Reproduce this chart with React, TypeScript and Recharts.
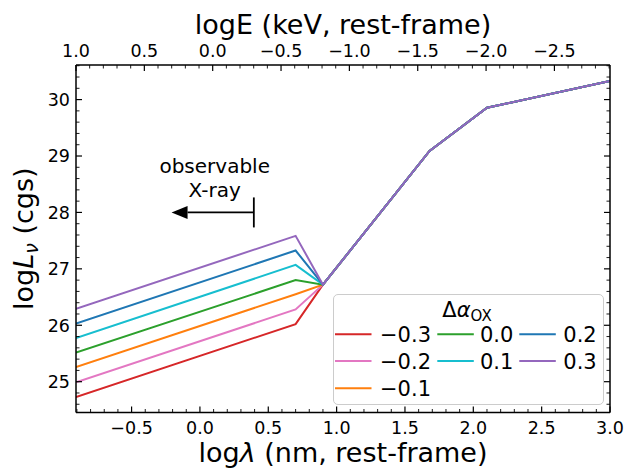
import { LineChart, Line, XAxis, YAxis, Legend, ReferenceLine, Label } from 'recharts'

const FONT = '"DejaVu Sans", sans-serif'

// log10(hc) in keV*nm, links the two x axes
const LOG_HC = 0.09336

// logλ (nm) of the polyline vertices
const LOG_LAMBDA = [-0.9066, 0.7, 0.9, 1.68, 2.1, 3.0]

// logLν for each Δα_OX
const D_M03 = [24.73, 26.02, 26.72, 29.09, 29.855, 30.33]
const D_M02 = [24.99, 26.28, 26.72, 29.09, 29.855, 30.33]
const D_M01 = [25.26, 26.55, 26.72, 29.09, 29.855, 30.33]
const D_P00 = [25.515, 26.8, 26.72, 29.09, 29.855, 30.33]
const D_P01 = [25.775, 27.07, 26.72, 29.09, 29.855, 30.33]
const D_P02 = [26.03, 27.325, 26.72, 29.09, 29.855, 30.33]
const D_P03 = [26.29, 27.585, 26.72, 29.09, 29.855, 30.33]

const SERIES_VALUES = [D_M03, D_M02, D_M01, D_P00, D_P01, D_P02, D_P03]
const SERIES_LABELS = ['\u22120.3', '\u22120.2', '\u22120.1', '0.0', '0.1', '0.2', '0.3']
const SERIES_COLORS = ['#d62728', '#e377c2', '#ff7f0e', '#2ca02c', '#17becf', '#1f77b4', '#9467bd']
const LEGEND_COLUMNS = [[0, 1, 2], [3, 4], [5, 6]]

// axes
const X_MIN = LOG_HC - 1.0
const X_MAX = 3.0
const Y_MIN = 24.454
const Y_MAX = 30.613
const X_MAJOR = [-0.5, 0.0, 0.5, 1.0, 1.5, 2.0, 2.5, 3.0]
const E_MAJOR = [1.0, 0.5, 0.0, -0.5, -1.0, -1.5, -2.0, -2.5]
const Y_MAJOR = [25, 26, 27, 28, 29, 30]

// "observable X-ray" arrow, logE of tail / head (0.5 keV -> 2 keV)
const ARROW_TAIL_E = -0.301
const ARROW_HEAD_E = 0.301
const ARROW_Y = 28.0

const steps = (from: number, to: number, step: number) => {
  const out: number[] = []
  const n = Math.round((to - from) / step)
  for (let i = 0; i <= n; i++) out.push(Math.round((from + i * step) * 1000) / 1000)
  return out
}
const isMajor = (v: number, majors: number[]) => majors.some(m => Math.abs(m - v) < 1e-6)
const fmt = (v: number) => {
  const r = Math.round(v * 10) / 10
  return (r === 0 ? 0 : r).toFixed(1).replace('-', '\u2212')
}

const xTicks = steps(-0.9, 3.0, 0.1)
const eValues = steps(-2.9, 1.0, 0.1)
const topTicks = eValues.map(e => LOG_HC - e)
const yTicks = steps(24.6, 30.6, 0.2)

const rows = LOG_LAMBDA.map((x, i) => {
  const row: any = { x }
  SERIES_VALUES.forEach((vals, s) => { row['s' + s] = vals[i] })
  return row
})

const TICK_FONT = 17.5
const LABEL_FONT = 27
const AXIS_LINE = { stroke: '#000', strokeWidth: 1.5 }

function BottomTick({ x, y, payload }: any) {
  const major = isMajor(payload.value, X_MAJOR)
  return (
    <g>
      <line x1={x} x2={x} y1={y} y2={y - (major ? 6 : 3.5)} stroke="#000" strokeWidth={major ? 1.2 : 0.9} />
      {major && (
        <text x={x} y={y + 21} textAnchor="middle" fontSize={TICK_FONT} fontFamily={FONT} fill="#000">
          {fmt(payload.value)}
        </text>
      )}
    </g>
  )
}

function TopTick({ x, y, payload }: any) {
  const e = LOG_HC - payload.value
  const major = isMajor(e, E_MAJOR)
  return (
    <g>
      <line x1={x} x2={x} y1={y} y2={y + (major ? 6 : 3.5)} stroke="#000" strokeWidth={major ? 1.2 : 0.9} />
      {major && (
        <text x={x} y={y - 8} textAnchor="middle" fontSize={TICK_FONT} fontFamily={FONT} fill="#000">
          {fmt(e)}
        </text>
      )}
    </g>
  )
}

function LeftTick({ x, y, payload }: any) {
  const major = isMajor(payload.value, Y_MAJOR)
  return (
    <g>
      <line x1={x} x2={x + (major ? 6 : 3.5)} y1={y} y2={y} stroke="#000" strokeWidth={major ? 1.2 : 0.9} />
      {major && (
        <text x={x - 6} y={y + 6.4} textAnchor="end" fontSize={TICK_FONT} fontFamily={FONT} fill="#000">
          {Math.round(payload.value)}
        </text>
      )}
    </g>
  )
}

function RightTick({ x, y, payload }: any) {
  const major = isMajor(payload.value, Y_MAJOR)
  return <line x1={x} x2={x - (major ? 6 : 3.5)} y1={y} y2={y} stroke="#000" strokeWidth={major ? 1.2 : 0.9} />
}

function BottomLabel({ viewBox }: any) {
  const { x, y, width } = viewBox
  return (
    <text x={x + width / 2} y={y + 49.5} textAnchor="middle" fontSize={LABEL_FONT} fontFamily={FONT} fill="#000">
      log<tspan fontStyle="italic">λ</tspan> (nm, rest-frame)
    </text>
  )
}

function TopLabel({ viewBox }: any) {
  const { x, y, width } = viewBox
  return (
    <text x={x + width / 2} y={y + 33.5} textAnchor="middle" fontSize={LABEL_FONT} fontFamily={FONT} fill="#000">
      logE (keV, rest-frame)
    </text>
  )
}

function LeftLabel({ viewBox }: any) {
  const { x, y, height } = viewBox
  const cx = x + 33
  const cy = y + height / 2
  return (
    <text x={cx} y={cy} transform={`rotate(-90 ${cx} ${cy})`} textAnchor="middle" fontSize={LABEL_FONT} fontFamily={FONT} fill="#000">
      log<tspan fontStyle="italic">L</tspan>
      <tspan fontStyle="italic" fontSize={19} dy={5}>ν</tspan>
      <tspan dy={-5}> (cgs)</tspan>
    </text>
  )
}

function XrayArrow(props: any) {
  const { x1, y1, x2 } = props
  const head = 16
  const half = 6.5
  const bar = 15
  const cx = (x1 + x2) / 2 + 2
  return (
    <g>
      <line x1={x1} y1={y1} x2={x2 + head} y2={y1} stroke="#000" strokeWidth={1.8} />
      <polygon points={`${x2},${y1} ${x2 + head},${y1 - half} ${x2 + head},${y1 + half}`} fill="#000" />
      <line x1={x1} y1={y1 - bar} x2={x1} y2={y1 + bar} stroke="#000" strokeWidth={1.8} />
      <text x={cx} y={y1 - 39.3} textAnchor="middle" fontSize={20} fontFamily={FONT} fill="#000">observable</text>
      <text x={cx} y={y1 - 15.8} textAnchor="middle" fontSize={20} fontFamily={FONT} fill="#000">X-ray</text>
    </g>
  )
}

function LegendBox() {
  const handleX = [2, 104.3, 186.3]
  const textX = [47, 147, 230.3]
  const rowY = [40.3, 67, 94.3]
  return (
    <div
      style={{
        position: 'relative',
        width: 271,
        height: 111,
        boxSizing: 'border-box',
        border: '1px solid #cccccc',
        borderRadius: 5,
        background: 'rgba(255,255,255,0.8)',
      }}
    >
      <svg width={271} height={111} style={{ position: 'absolute', left: -1, top: -1, overflow: 'visible' }}>
        <text x={134} y={22.5} textAnchor="middle" fontSize={21} fontFamily={FONT} fill="#000">
          Δ<tspan fontStyle="italic">α</tspan>
          <tspan fontSize={15} dy={4}>OX</tspan>
        </text>
        {LEGEND_COLUMNS.map((col, c) =>
          col.map((s, r) => (
            <g key={s}>
              <line x1={handleX[c]} x2={handleX[c] + 36.5} y1={rowY[r]} y2={rowY[r]} stroke={SERIES_COLORS[s]} strokeWidth={2} />
              <text x={textX[c]} y={rowY[r] + 7.6} fontSize={21} fontFamily={FONT} fill="#000">
                {SERIES_LABELS[s]}
              </text>
            </g>
          ))
        )}
      </svg>
    </div>
  )
}

export default function App() {
  return (
    <div style={{ position: 'absolute', left: 0, top: 0, width: 629, height: 468, background: '#fff' }}>
      <LineChart width={629} height={468} data={rows} margin={{ top: 0, right: 0, bottom: 0, left: 0 }} style={{ fontFamily: FONT }}>
        <XAxis
          xAxisId="bottom"
          orientation="bottom"
          type="number"
          dataKey="x"
          domain={[X_MIN, X_MAX]}
          allowDataOverflow
          ticks={xTicks}
          interval={0}
          tick={BottomTick}
          tickLine={false}
          tickSize={0}
          tickMargin={0}
          height={55.5}
          axisLine={AXIS_LINE}
        >
          <Label content={BottomLabel} />
        </XAxis>
        <XAxis
          xAxisId="top"
          orientation="top"
          type="number"
          dataKey="x"
          domain={[X_MIN, X_MAX]}
          allowDataOverflow
          ticks={topTicks}
          interval={0}
          tick={TopTick}
          tickLine={false}
          tickSize={0}
          tickMargin={0}
          height={65}
          axisLine={AXIS_LINE}
        >
          <Label content={TopLabel} />
        </XAxis>
        <YAxis
          yAxisId="left"
          orientation="left"
          type="number"
          domain={[Y_MIN, Y_MAX]}
          allowDataOverflow
          ticks={yTicks}
          interval={0}
          tick={LeftTick}
          tickLine={false}
          tickSize={0}
          tickMargin={0}
          width={76}
          axisLine={AXIS_LINE}
        >
          <Label content={LeftLabel} />
        </YAxis>
        <YAxis
          yAxisId="right"
          orientation="right"
          type="number"
          domain={[Y_MIN, Y_MAX]}
          allowDataOverflow
          ticks={yTicks}
          interval={0}
          tick={RightTick}
          tickLine={false}
          tickSize={0}
          tickMargin={0}
          width={19}
          axisLine={AXIS_LINE}
        />
        {SERIES_VALUES.map((_, s) => (
          <Line
            key={s}
            xAxisId="bottom"
            yAxisId="left"
            type="linear"
            dataKey={'s' + s}
            name={SERIES_LABELS[s]}
            stroke={SERIES_COLORS[s]}
            strokeWidth={2}
            dot={false}
            activeDot={false}
            isAnimationActive={false}
          />
        ))}
        <ReferenceLine
          xAxisId="bottom"
          yAxisId="left"
          segment={[
            { x: LOG_HC - ARROW_TAIL_E, y: ARROW_Y },
            { x: LOG_HC - ARROW_HEAD_E, y: ARROW_Y },
          ]}
          ifOverflow="visible"
          shape={XrayArrow}
        />
        <Legend
          verticalAlign="middle"
          align="center"
          content={LegendBox}
          wrapperStyle={{ left: 333, top: 294, width: 271, height: 111 }}
        />
      </LineChart>
    </div>
  )
}
